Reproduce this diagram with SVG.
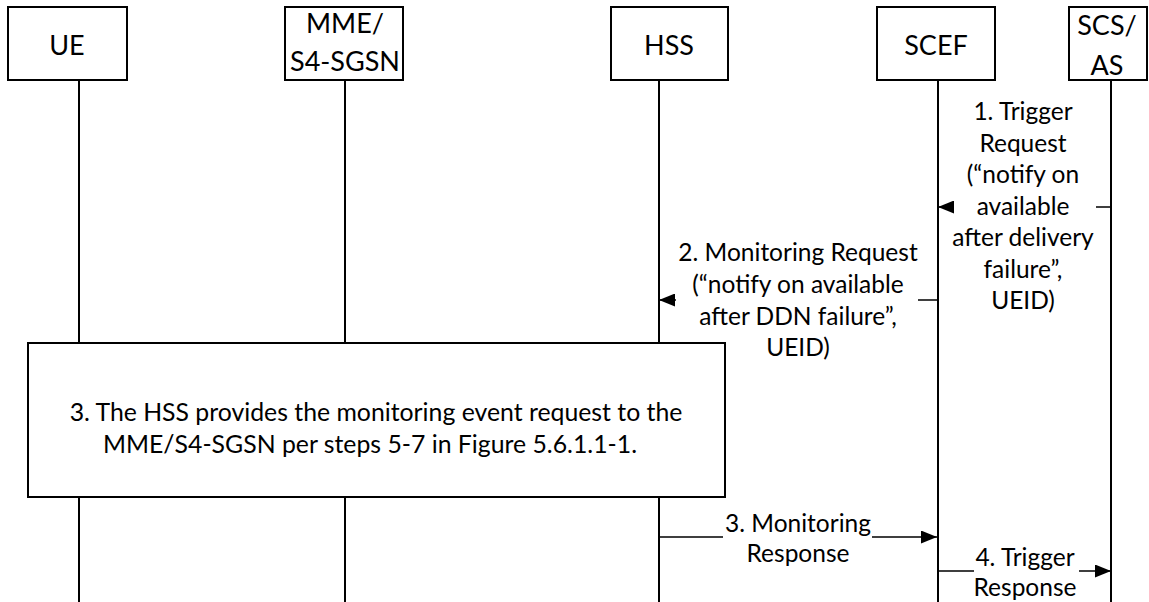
<svg xmlns="http://www.w3.org/2000/svg" width="1149" height="602" viewBox="0 0 1149 602">
  <style>
    .box { fill: #fff; stroke: #000; stroke-width: 2; }
    .life { stroke: #000; stroke-width: 2; fill: none; }
    .msg { stroke: #000; stroke-width: 1.6; fill: none; }
    .hdr { font-family: Lato, "Liberation Sans", sans-serif; font-size: 27px; text-anchor: middle; fill: #000; }
    .lbl { font-family: Lato, "Liberation Sans", sans-serif; font-size: 24.5px; text-anchor: middle; fill: #000; }
    .big { font-size: 24.8px; }
  </style>
  <defs>
    <marker id="arr" viewBox="0 0 16 13" refX="16" refY="6.5" markerWidth="16" markerHeight="13" markerUnits="userSpaceOnUse" orient="auto">
      <path d="M0,0 L16,6.5 L0,13 Z" fill="#000"/>
    </marker>
  </defs>
  <rect width="1149" height="602" fill="#fff"/>

  <g id="ue">
    <line class="life" x1="79" y1="80" x2="79" y2="602"/>
    <rect class="box" x="8" y="7" width="119" height="73"/>
    <text class="hdr" x="67" y="55">UE</text>
  </g>
  <g id="mme">
    <line class="life" x1="345" y1="80" x2="345" y2="602"/>
    <rect class="box" x="285" y="7" width="118" height="73"/>
    <text class="hdr" x="345" y="33">MME/</text>
    <text class="hdr" x="345" y="71">S4-SGSN</text>
  </g>
  <g id="hss">
    <line class="life" x1="659" y1="80" x2="659" y2="602"/>
    <rect class="box" x="611" y="7" width="117" height="73"/>
    <text class="hdr" x="669" y="55">HSS</text>
  </g>
  <g id="scef">
    <line class="life" x1="938" y1="80" x2="938" y2="602"/>
    <rect class="box" x="877" y="7" width="118" height="73"/>
    <text class="hdr" x="936" y="55">SCEF</text>
  </g>
  <g id="scs">
    <line class="life" x1="1111" y1="80" x2="1111" y2="602"/>
    <rect class="box" x="1069" y="7" width="78" height="73"/>
    <text class="hdr" x="1107" y="35">SCS/</text>
    <text class="hdr" x="1107" y="75">AS</text>
  </g>

  <g id="step3-box">
    <rect class="box" x="28" y="343" width="697" height="154"/>
    <text class="lbl big" x="376" y="421">3. The HSS provides the monitoring event request to the</text>
    <text class="lbl big" x="370" y="453">MME/S4-SGSN per steps 5-7 in Figure 5.6.1.1-1.</text>
  </g>

  <g id="connectors">
    <path class="msg" d="M1111,207 H1096 M952,207 H938" marker-end="url(#arr)"/>
    <path class="msg" d="M938,300 H918 M676,300 H659" marker-end="url(#arr)"/>
    <path class="msg" d="M659,537 H723 M872,537 H937" marker-end="url(#arr)"/>
    <path class="msg" d="M938,571 H974 M1079,571 H1111" marker-end="url(#arr)"/>
  </g>

  <g id="labels">
    <text class="lbl" x="1023" y="120">1. Trigger</text>
    <text class="lbl" x="1023" y="151.5">Request</text>
    <text class="lbl" x="1023" y="183">(“notify on</text>
    <text class="lbl" x="1023" y="214.5">available</text>
    <text class="lbl" x="1023" y="246">after delivery</text>
    <text class="lbl" x="1023" y="277.5">failure”,</text>
    <text class="lbl" x="1023" y="309">UEID)</text>

    <text class="lbl" x="798" y="261">2. Monitoring Request</text>
    <text class="lbl" x="798" y="293">(“notify on available</text>
    <text class="lbl" x="798" y="325">after DDN failure”,</text>
    <text class="lbl" x="798" y="356">UEID)</text>

    <text class="lbl" x="798" y="532">3. Monitoring</text>
    <text class="lbl" x="798" y="562">Response</text>

    <text class="lbl" x="1025" y="566">4. Trigger</text>
    <text class="lbl" x="1025" y="596">Response</text>
  </g>
</svg>
